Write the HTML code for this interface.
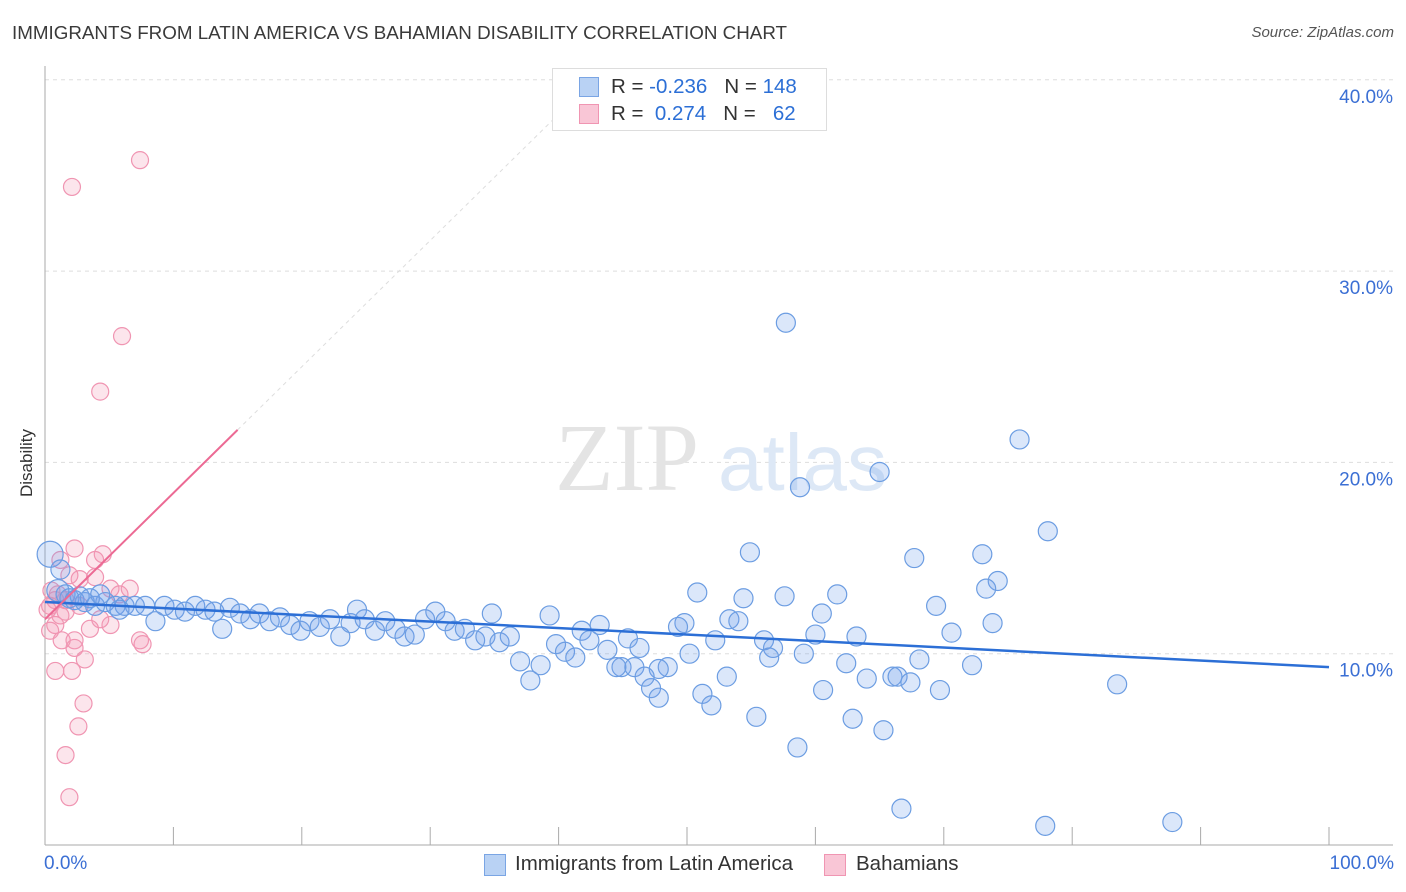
<!DOCTYPE html>
<html><head><meta charset="utf-8">
<style>
body{margin:0;background:#fff;font-family:"Liberation Sans",sans-serif;}
#wrap{position:relative;width:1406px;height:892px;overflow:hidden;}
.t{position:absolute;white-space:nowrap;}
</style></head>
<body>
<div id="wrap">
<div class="t" style="left:12px;top:22px;font-size:18.8px;color:#3a3a3a;">IMMIGRANTS FROM LATIN AMERICA VS BAHAMIAN DISABILITY CORRELATION CHART</div>
<div class="t" style="right:12px;top:24px;font-size:15px;color:#555;font-style:italic;">Source: ZipAtlas.com</div>
<svg id="svg" width="1406" height="892" style="position:absolute;left:0;top:0"></svg>
</div>
<script>
const blueX=[57.7,75.9,65.0,58.8,78.1,54.9,67.7,73.0,74.2,73.3,50.8,54.4,57.6,61.7,69.4,60.5,53.3,54.0,49.8,49.3,73.8,70.6,60.0,63.2,56.0,56.7,52.2,56.4,59.1,50.2,68.1,62.4,72.2,48.5,47.8,44.9,45.9,64.0,66.0,66.4,67.4,53.1,69.7,60.6,47.2,47.8,51.2,51.9,55.4,62.9,65.3,58.6,83.5,66.7,77.9,87.8,
0.4,1.0,1.6,1.9,2.3,3.1,3.9,4.7,5.5,6.2,7.0,7.8,8.6,9.3,10.1,10.9,11.7,12.5,13.2,13.8,14.4,15.2,16.0,16.7,17.5,18.3,19.1,19.9,20.6,21.4,22.2,23.0,23.8,24.3,24.9,25.7,26.5,27.3,28.0,28.8,29.6,30.4,31.2,31.9,32.7,33.5,34.3,34.8,35.4,36.2,37.0,37.8,38.6,39.3,39.8,40.5,41.3,41.8,42.4,43.2,43.8,44.5,45.4,46.3,46.7,1.2,2.7,3.5,5.8,4.3];
const blueY=[27.3,21.2,19.5,18.7,16.4,15.3,15.0,15.2,13.8,13.4,13.2,12.9,13.0,13.1,12.5,12.1,11.8,11.7,11.6,11.4,11.6,11.1,11.0,10.9,10.7,10.3,10.7,9.8,10.0,10.0,9.7,9.5,9.4,9.3,9.2,9.3,9.3,8.7,8.8,8.8,8.5,8.8,8.1,8.1,8.2,7.7,7.9,7.3,6.7,6.6,6.0,5.1,8.4,1.9,1.0,1.2,
15.2,13.3,13.1,12.9,12.8,12.7,12.5,12.7,12.5,12.5,12.5,12.5,11.7,12.5,12.3,12.2,12.5,12.3,12.2,11.3,12.4,12.1,11.8,12.1,11.7,11.9,11.5,11.2,11.7,11.4,11.8,10.9,11.6,12.3,11.8,11.2,11.7,11.3,10.9,11.0,11.8,12.2,11.7,11.2,11.3,10.7,10.9,12.1,10.6,10.9,9.6,8.6,9.4,12.0,10.5,10.1,9.8,11.2,10.7,11.5,10.2,9.3,10.8,10.3,8.8,14.4,13.0,12.9,12.3,13.1];
const pinkX=[7.4,2.1,6.0,4.3,4.5,2.3,1.2,1.9,2.7,3.9,5.1,0.8,0.4,1.2,1.6,0.8,0.4,1.3,2.3,3.5,5.1,7.4,7.6,2.3,3.1,0.8,2.1,3.0,2.6,1.6,1.9,0.5,0.2,1.0,1.6,2.7,4.3,5.8,6.6,3.9];
const pinkY=[35.8,34.4,26.6,23.7,15.2,15.5,14.9,14.1,13.9,14.0,13.4,12.8,12.5,12.0,12.2,11.5,11.2,10.7,10.7,11.3,11.5,10.7,10.5,10.3,9.7,9.1,9.1,7.4,6.2,4.7,2.5,13.3,12.3,13.1,12.8,12.5,11.8,13.1,13.4,14.9];
const blueTrend=[12.7,9.3];
const pinkTrend=[11.8,0.66];
const yTicks=[10,20,30,40];
const yTickLabels=["10.0%","20.0%","30.0%","40.0%"];

const NS="http://www.w3.org/2000/svg";
const svg=document.getElementById('svg');
const X=v=>45+v*12.84, Y=v=>845-v*19.13;
function el(tag,a,parent){const e=document.createElementNS(NS,tag);for(const k in a)e.setAttribute(k,a[k]);(parent||svg).appendChild(e);return e;}
yTicks.forEach((t,i)=>{
  const g=el('line',{x1:45,x2:1393,y1:Y(t),y2:Y(t),stroke:'#ddd','stroke-dasharray':'4,4'});
  
  
  const tx=el('text',{x:1393,y:Y(t)+23,'text-anchor':'end','font-size':19,fill:'#3b6fd4','font-family':'Liberation Sans'});
  tx.textContent=yTickLabels[i];
  
  
});
let a=el('line',{x1:45,x2:45,y1:66,y2:845,stroke:'#aaa'});

a=el('line',{x1:45,x2:1393,y1:845,y2:845,stroke:'#aaa'});

for(let i=0;i<=10;i++){const tk=el('line',{x1:X(i*10),x2:X(i*10),y1:827,y2:845,stroke:'#aaa'});

}
let w=el('text',{x:555,y:490,'font-size':96,fill:'#e4e4e4','font-family':'Liberation Serif'});w.textContent='ZIP';

w=el('text',{x:718,y:490,'font-size':80,fill:'#dde8f6','font-family':'Liberation Sans'});w.textContent='atlas';

pinkX.forEach((x,i)=>{const c=el('circle',{cx:X(x),cy:Y(pinkY[i]),r:8.5,fill:'rgba(245,150,180,0.25)',stroke:'#f095b2','stroke-width':1.2});

});
blueX.forEach((x,i)=>{const c=el('circle',{cx:X(x),cy:Y(blueY[i]),r:i==56?13:(i==57?11:9.5),fill:'rgba(110,160,235,0.25)',stroke:'#6c9de2','stroke-width':1.2});

});
let tl=el('line',{x1:X(0),y1:Y(blueTrend[0]),x2:X(100),y2:Y(blueTrend[1]),stroke:'#2c6fd6','stroke-width':2.5});

const px2=(40-pinkTrend[0])/pinkTrend[1];
tl=el('line',{x1:X(15),y1:Y(pinkTrend[0]+15*pinkTrend[1]),x2:X(px2),y2:Y(40),stroke:'#ddd','stroke-width':1,'stroke-dasharray':'4,4'});

tl=el('line',{x1:X(0),y1:Y(pinkTrend[0]),x2:X(15),y2:Y(pinkTrend[0]+15*pinkTrend[1]),stroke:'#ec6a94','stroke-width':2});

</script>
<div class="t" style="left:44px;top:853px;font-size:19px;color:#3b6fd4">0.0%</div>
<div class="t" style="right:12px;top:853px;font-size:19px;color:#3b6fd4">100.0%</div>
<div class="t" style="left:17px;top:497px;font-size:17px;color:#333;transform:rotate(-90deg);transform-origin:0 0">Disability</div>
<div style="position:absolute;left:552px;top:68px;width:273px;height:61px;border:1px solid #ddd;background:#fff">
 <div style="position:absolute;left:26px;top:8px;width:18px;height:18px;background:#b9d2f4;border:1px solid #7aa5e4"></div>
 <div class="t" style="left:58px;top:6px;font-size:20.5px;color:#333">R = <span style="color:#2c6fd6">-0.236</span>&nbsp;&nbsp; N = <span style="color:#2c6fd6">148</span></div>
 <div style="position:absolute;left:26px;top:35px;width:18px;height:18px;background:#f9c6d6;border:1px solid #f095b2"></div>
 <div class="t" style="left:58px;top:33px;font-size:20.5px;color:#333">R = &nbsp;<span style="color:#2c6fd6">0.274</span>&nbsp;&nbsp; N = &nbsp;&nbsp;<span style="color:#2c6fd6">62</span></div>
</div>
<div style="position:absolute;left:484px;top:854px;width:20px;height:20px;background:#b9d2f4;border:1px solid #7aa5e4"></div>
<div class="t" style="left:515px;top:852px;font-size:20.5px;color:#333">Immigrants from Latin America</div>
<div style="position:absolute;left:824px;top:854px;width:20px;height:20px;background:#f9c6d6;border:1px solid #f095b2"></div>
<div class="t" style="left:856px;top:852px;font-size:20.5px;color:#333">Bahamians</div>
</body></html>
